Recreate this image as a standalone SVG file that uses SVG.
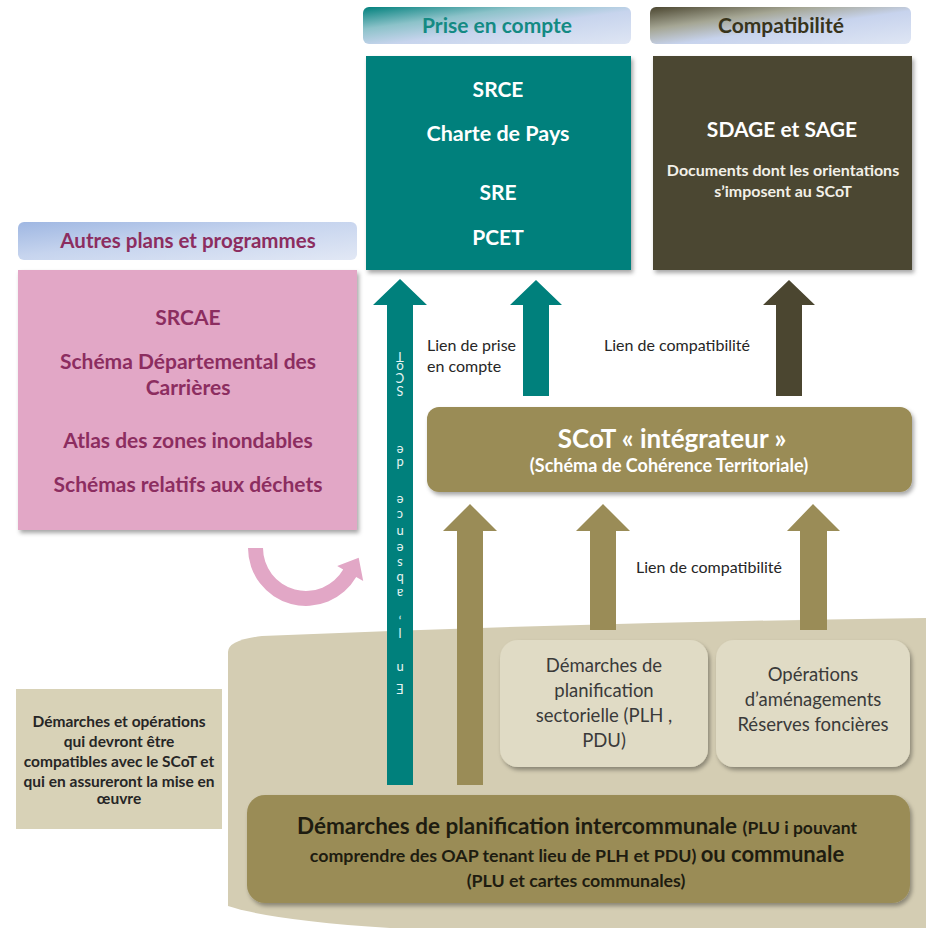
<svg xmlns="http://www.w3.org/2000/svg" width="926" height="928" viewBox="0 0 926 928">
<defs>
<style>
text{font-family:Lato,"Liberation Sans","DejaVu Sans",sans-serif}
.b{font-weight:bold}
.c{text-anchor:middle}
.wh{fill:#ffffff}
.plum{fill:#8c2d60;font-weight:bold;font-size:21px;text-anchor:middle}
.lbl{fill:#262626;font-size:16px}
.sec{fill:#3a3a3a;font-size:18.5px;text-anchor:middle}
.bot{fill:#1e1c10;font-weight:bold;text-anchor:middle}
.note{fill:#262626;font-weight:bold;font-size:15.5px;text-anchor:middle}
.teal{fill:#00807c}
.dark{fill:#4b4630}
.olive{fill:#9a8c57}
.vt{fill:#e6f3f2;font-size:13px;text-anchor:middle}
</style>
<linearGradient id="gTeal" x1="0" y1="0" x2="1" y2="1">
<stop offset="0" stop-color="#00807c"/>
<stop offset="0.3" stop-color="#8cc2c9"/>
<stop offset="0.55" stop-color="#c7d4ed"/>
<stop offset="1" stop-color="#dfe6f4"/>
</linearGradient>
<linearGradient id="gDark" x1="0" y1="0" x2="1" y2="1">
<stop offset="0" stop-color="#4b4630"/>
<stop offset="0.3" stop-color="#a5a694"/>
<stop offset="0.55" stop-color="#c7d3ed"/>
<stop offset="1" stop-color="#dfe6f4"/>
</linearGradient>
<linearGradient id="gBlue" x1="0" y1="0" x2="1" y2="1">
<stop offset="0" stop-color="#9fb7e2"/>
<stop offset="0.45" stop-color="#c6d4ee"/>
<stop offset="1" stop-color="#e2e8f5"/>
</linearGradient>
<filter id="sh" x="-5%" y="-5%" width="115%" height="120%">
<feDropShadow dx="2" dy="3" stdDeviation="2" flood-color="#000" flood-opacity="0.35"/>
</filter>
</defs>

<!-- background beige zone -->
<path id="bg-zone" d="M228,652 Q228,640 262,636 Q600,622 926,618 L926,928 L390,928 Q270,920 228,906 Z" fill="#d4cdb3"/>

<g id="hdr-prise">
<rect x="363" y="7" width="268" height="37" rx="6" fill="url(#gTeal)"/>
<text x="497" y="33" class="b c" font-size="21" fill="#138a83">Prise en compte</text>
</g>
<g id="hdr-compat">
<rect x="650" y="7" width="261" height="37" rx="6" fill="url(#gDark)"/>
<text x="781" y="33" class="b c" font-size="21" fill="#38341b">Compatibilité</text>
</g>

<g id="box-prise">
<rect x="366" y="56" width="265" height="214" class="teal" filter="url(#sh)"/>
<text x="498" y="97" class="b c wh" font-size="21">SRCE</text>
<text x="498" y="141" class="b c wh" font-size="21.5">Charte de Pays</text>
<text x="498" y="200" class="b c wh" font-size="21">SRE</text>
<text x="498" y="245" class="b c wh" font-size="21">PCET</text>
</g>

<g id="box-compat">
<rect x="653" y="56" width="259" height="214" class="dark" filter="url(#sh)"/>
<text x="782" y="137" class="b c wh" font-size="21">SDAGE et SAGE</text>
<text x="783" y="176" class="b c" fill="#f2f0e8" font-size="16">Documents dont les orientations</text>
<text x="783" y="197" class="b c" fill="#f2f0e8" font-size="16">s’imposent au SCoT</text>
</g>

<g id="hdr-autres">
<rect x="18" y="222" width="339" height="38" rx="6" fill="url(#gBlue)"/>
<text x="188" y="248" class="b c" font-size="20.5" fill="#8c2d60">Autres plans et programmes</text>
</g>

<g id="box-autres">
<rect x="18" y="270" width="339" height="260" fill="#e2a7c6" filter="url(#sh)"/>
<text x="188" y="325" class="plum">SRCAE</text>
<text x="188" y="369" class="plum">Schéma Départemental des</text>
<text x="188" y="395" class="plum">Carrières</text>
<text x="188" y="448" class="plum">Atlas des zones inondables</text>
<text x="188" y="492" class="plum">Schémas relatifs aux déchets</text>
</g>

<g id="box-scot">
<rect x="427" y="407" width="485" height="85" rx="12" class="olive" filter="url(#sh)"/>
<text x="672" y="448" class="b c wh" font-size="26">SCoT « intégrateur »</text>
<text x="669" y="472" class="b c wh" font-size="18">(Schéma de Cohérence Territoriale)</text>
</g>

<g id="box-sect">
<rect x="500" y="640" width="208" height="127" rx="18" fill="#e0dbc5" filter="url(#sh)"/>
<text x="604" y="672" class="sec">Démarches de</text>
<text x="604" y="697" class="sec">planification</text>
<text x="604" y="722" class="sec">sectorielle (PLH ,</text>
<text x="604" y="747" class="sec">PDU)</text>
</g>

<g id="box-oper">
<rect x="716" y="640" width="194" height="127" rx="18" fill="#e0dbc5" filter="url(#sh)"/>
<text x="813" y="681" class="sec">Opérations</text>
<text x="813" y="706" class="sec">d’aménagements</text>
<text x="813" y="731" class="sec">Réserves foncières</text>
</g>

<g id="box-plu">
<rect x="247" y="795" width="663" height="108" rx="18" class="olive" filter="url(#sh)"/>
<text x="577" y="834" class="bot"><tspan font-size="22.5">Démarches de planification intercommunale </tspan><tspan font-size="17.5">(PLU i pouvant</tspan></text>
<text x="577" y="862" class="bot"><tspan font-size="17.8">comprendre des OAP tenant lieu de PLH et PDU) </tspan><tspan font-size="22">ou communale</tspan></text>
<text x="576" y="887" class="bot" font-size="17.8">(PLU et cartes communales)</text>
</g>

<g id="box-note">
<rect x="16" y="689" width="206" height="140" fill="#d8d2b7"/>
<text x="119" y="727" class="note">Démarches et opérations</text>
<text x="119" y="747" class="note">qui devront être</text>
<text x="119" y="767" class="note">compatibles avec le SCoT et</text>
<text x="119" y="787" class="note">qui en assureront la mise en</text>
<text x="119" y="804" class="note">œuvre</text>
</g>

<g id="connectors">
<!-- long teal arrow -->
<path d="M387,785 L387,305 L373,305 L400,279 L427,305 L413,305 L413,785 Z" class="teal"/>
<!-- short teal arrow -->
<path d="M523,396 L523,305 L510,305 L536,280 L562,305 L549,305 L549,396 Z" class="teal"/>
<!-- dark arrow -->
<path d="M776,396 L776,305 L763,305 L789,280 L815,305 L802,305 L802,396 Z" class="dark"/>
<!-- olive arrows -->
<path d="M457,785 L457,531 L443,531 L470,504 L497,531 L483,531 L483,785 Z" class="olive"/>
<path d="M590,630 L590,531 L576,531 L603,504 L630,531 L616,531 L616,630 Z" class="olive"/>
<path d="M800,630 L800,531 L787,531 L813,504 L840,531 L827,531 L827,630 Z" class="olive"/>
<!-- pink curved arrow -->
<path d="M248,548 A58,58 0 0 0 356.2,577 L363.2,581 L358.7,557.7 L337.2,566 L343.2,569.5 A43,43 0 0 1 263,548 Z" fill="#e2a7c6"/>
<g transform="rotate(180 400 523)">
<text class="vt" x="400 400 400 400 400 400 400 400 400 400 400 400 400 400 400 400 400" y="362 382 418 437 457 472 487 502 518 535 550 587 600 660 673 683 694">Enl’absencedeSCoT</text>
</g>
<text x="427" y="351" class="lbl">Lien de prise</text>
<text x="427" y="372" class="lbl">en compte</text>
<text x="604" y="351" class="lbl">Lien de compatibilité</text>
<text x="636" y="573" class="lbl">Lien de compatibilité</text>
</g>
</svg>
